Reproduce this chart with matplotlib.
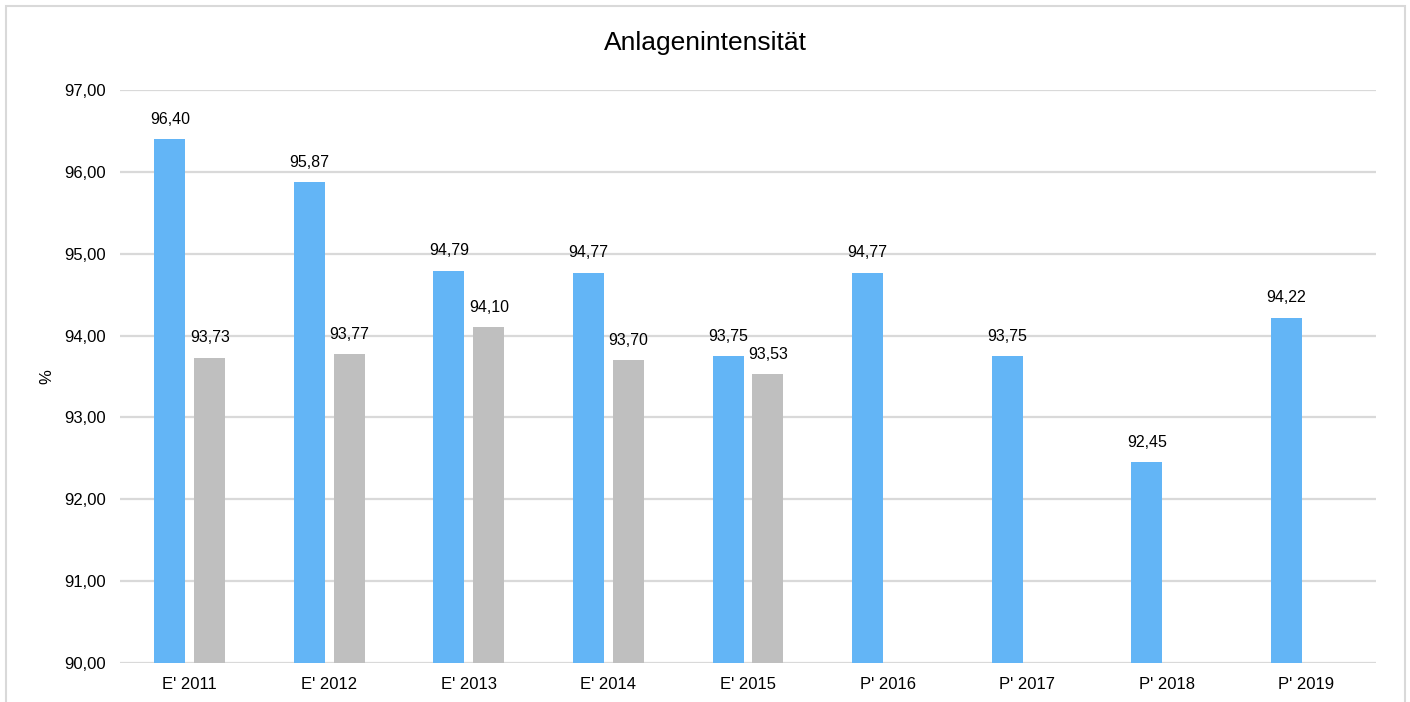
import numpy as np
import matplotlib
matplotlib.use("Agg")
import matplotlib.pyplot as plt
from matplotlib.patches import Rectangle

plt.rcParams["font.family"] = ["Liberation Sans", "DejaVu Sans"]

# Anlagenintensität in %, Ist (E') und Plan (P')
years = ["E' 2011", "E' 2012", "E' 2013", "E' 2014", "E' 2015",
         "P' 2016", "P' 2017", "P' 2018", "P' 2019"]
blue_values = [96.40, 95.87, 94.79, 94.77, 93.75, 94.77, 93.75, 92.45, 94.22]
grey_values = [93.73, 93.77, 94.10, 93.70, 93.53, np.nan, np.nan, np.nan, np.nan]

BLUE = "#63B5F6"
GREY = "#BFBFBF"
GRID = "#D9D9D9"


def fmt(v):
    return f"{v:.2f}".replace(".", ",")


fig = plt.figure(figsize=(14.1, 7.02), dpi=100)
ax = fig.add_axes([0.0851, 0.0556, 0.8908, 0.8162])

# outer chart frame, bottom edge runs off the canvas
fig.patches.append(Rectangle((6 / 1410, -0.05), 1399 / 1410, 1.05 - 6 / 702,
                             transform=fig.transFigure, fill=False,
                             edgecolor=GRID, linewidth=1.5))

x = np.arange(len(years))
width = 0.222
offset = 0.143

bars_b = ax.bar(x - offset, blue_values, width, color=BLUE, zorder=3)
grey_mask = ~np.isnan(grey_values)
bars_g = ax.bar(x[grey_mask] + offset, np.array(grey_values)[grey_mask], width,
                color=GREY, zorder=3)

for bars in (bars_b, bars_g):
    for b in bars:
        h = b.get_height()
        ax.annotate(fmt(h), (b.get_x() + b.get_width() / 2, h),
                    xytext=(0, 9), textcoords="offset points",
                    ha="center", va="bottom", fontsize=11.5, color="#000000",
                    zorder=4)

ax.set_ylim(90, 97)
ax.set_xlim(-0.5, len(years) - 0.5)
ax.set_yticks(np.arange(90, 98, 1))
ax.set_yticklabels([fmt(v) for v in np.arange(90, 98, 1)], fontsize=12)
ax.set_xticks(x)
ax.set_xticklabels(years, fontsize=12)
ax.tick_params(length=0, pad=10)
ax.tick_params(axis="y", pad=10)

ax.yaxis.grid(True, color=GRID, linewidth=1.6, zorder=0)
ax.set_axisbelow(True)
for s in ax.spines.values():
    s.set_visible(False)

fig.text(47 / 1410, 1 - 377 / 702, "%", rotation=90, ha="center", va="center",
         fontsize=12)
fig.text(0.5, 1 - 43 / 702, "Anlagenintensität", ha="center", va="center",
         fontsize=19)

fig.savefig("out.png", dpi=100)
